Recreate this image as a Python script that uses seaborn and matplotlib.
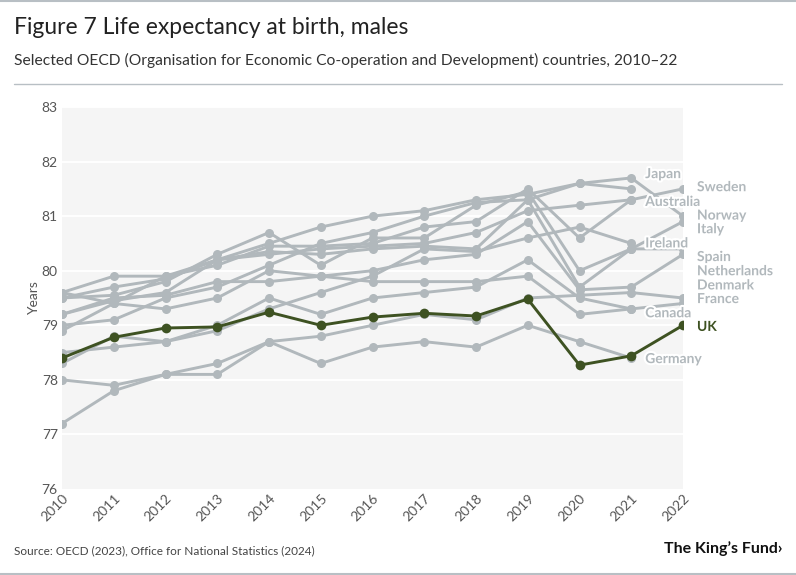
import numpy as np
import pandas as pd
import matplotlib
matplotlib.use("Agg")
import matplotlib.pyplot as plt
import matplotlib.patheffects as pe
import matplotlib.transforms as mtransforms
import seaborn as sns

# Male life expectancy at birth (years)
years = list(range(2010, 2023))
nan = np.nan

japan = [79.6, 79.4, 79.9, 80.2, 80.5, 80.8, 81.0, 81.1, 81.3, 81.4, 81.6, 81.5, nan]
sweden = [79.6, 79.9, 79.9, 80.1, 80.45, 80.45, 80.5, 80.8, 80.9, 81.5, 80.6, 81.3, 81.5]
australia = [79.5, 79.7, 79.85, 80.2, 80.3, 80.4, 80.45, 80.5, 80.7, 81.1, 81.2, 81.3, nan]
norway = [79.0, 79.1, 79.5, 79.7, 80.1, 80.5, 80.7, 81.0, 81.25, 81.3, 81.6, 81.7, 81.0]
italy = [79.5, 79.55, 79.8, 80.3, 80.7, 80.1, 80.6, 80.6, 81.2, 81.45, 80.0, 80.4, 80.9]
ireland = [78.5, 78.6, 78.7, 78.9, 79.3, 79.6, 79.9, 80.4, 80.35, 80.6, 80.8, 80.5, nan]
spain = [79.2, 79.45, 79.6, 80.2, 80.35, 80.3, 80.4, 80.45, 80.4, 81.3, 79.7, 80.4, 80.4]
netherlands = [78.9, 79.4, 79.3, 79.5, 80.0, 79.9, 80.0, 80.2, 80.3, 80.9, 79.65, 79.7, 80.3]
denmark = [77.2, 77.8, 78.1, 78.3, 78.7, 78.8, 79.0, 79.2, 79.1, 79.5, 79.55, 79.6, 79.5]
france = [78.3, 78.8, 78.7, 79.0, 79.5, 79.2, 79.5, 79.6, 79.7, 80.2, 79.5, 79.3, 79.4]
canada = [79.2, 79.5, 79.55, 79.8, 79.8, 79.9, 79.8, 79.8, 79.8, 79.9, 79.2, 79.3, nan]
germany = [78.0, 77.9, 78.1, 78.1, 78.7, 78.3, 78.6, 78.7, 78.6, 79.0, 78.7, 78.4, nan]
uk = [78.4, 78.78, 78.95, 78.97, 79.24, 79.0, 79.15, 79.22, 79.17, 79.48, 78.27, 78.44, 79.0]

countries = {
    "Japan": japan, "Sweden": sweden, "Australia": australia, "Norway": norway,
    "Italy": italy, "Ireland": ireland, "Spain": spain, "Netherlands": netherlands,
    "Denmark": denmark, "France": france, "Canada": canada, "Germany": germany,
}

# label placement (value level where each end label sits, nudged to avoid overlap)
label_y = {
    "Japan": 81.77, "Australia": 81.26, "Ireland": 80.50, "Canada": 79.22, "Germany": 78.38,
    "Sweden": 81.53, "Norway": 81.01, "Italy": 80.76, "Spain": 80.25,
    "Netherlands": 79.99, "Denmark": 79.73, "France": 79.48, "UK": 78.97,
}

grey = "#b1b8bc"
green = "#3e5222"

rows = []
for name, vals in countries.items():
    for yr, v in zip(years, vals):
        if not np.isnan(v):
            rows.append({"country": name, "year": yr, "value": v})
df = pd.DataFrame(rows)
df_uk = pd.DataFrame({"year": years, "value": uk})

sns.set_style("white")
plt.rcParams["font.family"] = ["Lato", "DejaVu Sans"]

fig = plt.figure(figsize=(7.96, 5.75), dpi=100)
ax = fig.add_axes([62 / 796, 86 / 575, 621 / 796, 382 / 575])
ax.set_facecolor("#f5f5f5")

for y in range(77, 84):
    ax.axhline(y, color="white", lw=1.4, zorder=1)

sns.lineplot(data=df, x="year", y="value", units="country", estimator=None,
             color=grey, marker="o", markersize=6.5, markeredgewidth=0,
             linewidth=2.1, ax=ax, zorder=3, legend=False)
sns.lineplot(data=df_uk, x="year", y="value", color=green, marker="o",
             markersize=7, markeredgewidth=0, linewidth=2.1, ax=ax, zorder=4)

halo = [pe.withStroke(linewidth=3, foreground="white")]
for name, vals in countries.items():
    last = max(i for i, v in enumerate(vals) if not np.isnan(v))
    ax.text(years[last] + 0.27, label_y[name], name, color=grey, fontsize=10,
            fontweight="bold", va="center", ha="left", path_effects=halo,
            zorder=5, clip_on=False)
ax.text(2022.27, label_y["UK"], "UK", color=green, fontsize=10,
        fontweight="bold", va="center", ha="left", path_effects=halo,
        zorder=5, clip_on=False)

ax.set_xlim(2010, 2022)
ax.set_ylim(76, 83)
ax.set_xticks(years)
ax.set_xticklabels([str(y) for y in years], rotation=45, ha="right",
                   rotation_mode="anchor", fontsize=10, color="#555555")
shift = mtransforms.ScaledTranslation(6 / 100, -3 / 100, fig.dpi_scale_trans)
for lab in ax.get_xticklabels():
    lab.set_transform(lab.get_transform() + shift)
ax.set_yticks(range(76, 84))
ax.set_yticklabels([str(y) for y in range(76, 84)], fontsize=10, color="#555555")
ax.tick_params(axis="both", length=0, pad=3)
ax.tick_params(axis="x", pad=2)
ax.set_xlabel("")
ax.set_ylabel("Years", fontsize=10, color="#555555", labelpad=1)
sns.despine(ax=ax, left=True, bottom=True)

fig.text(14 / 796, 1 - 28 / 575, "Figure 7 Life expectancy at birth, males",
         fontsize=16.5, color="#222222", va="center", ha="left")
fig.text(14 / 796, 1 - 60 / 575,
         "Selected OECD (Organisation for Economic Co-operation and Development) countries, 2010\u201322",
         fontsize=11.25, color="#333333", va="center", ha="left")
fig.add_artist(plt.Line2D([14 / 796, 782 / 796], [1 - 84 / 575] * 2,
                          color="#b8bfc4", lw=1))
fig.add_artist(plt.Line2D([0, 1], [1 - 1 / 575] * 2, color="#b8bfc4", lw=1.5))
fig.add_artist(plt.Line2D([0, 1], [1 / 575] * 2, color="#b8bfc4", lw=1.5))

fig.text(14 / 796, 1 - 551 / 575,
         "Source: OECD (2023), Office for National Statistics (2024)",
         fontsize=8.5, color="#444444", va="center", ha="left")
fig.text(782 / 796, 1 - 549 / 575, "The King\u2019s Fund\u203a", fontsize=11.5,
         fontweight="bold", color="#111111", va="center", ha="right")

fig.savefig("out.png", dpi=100)
